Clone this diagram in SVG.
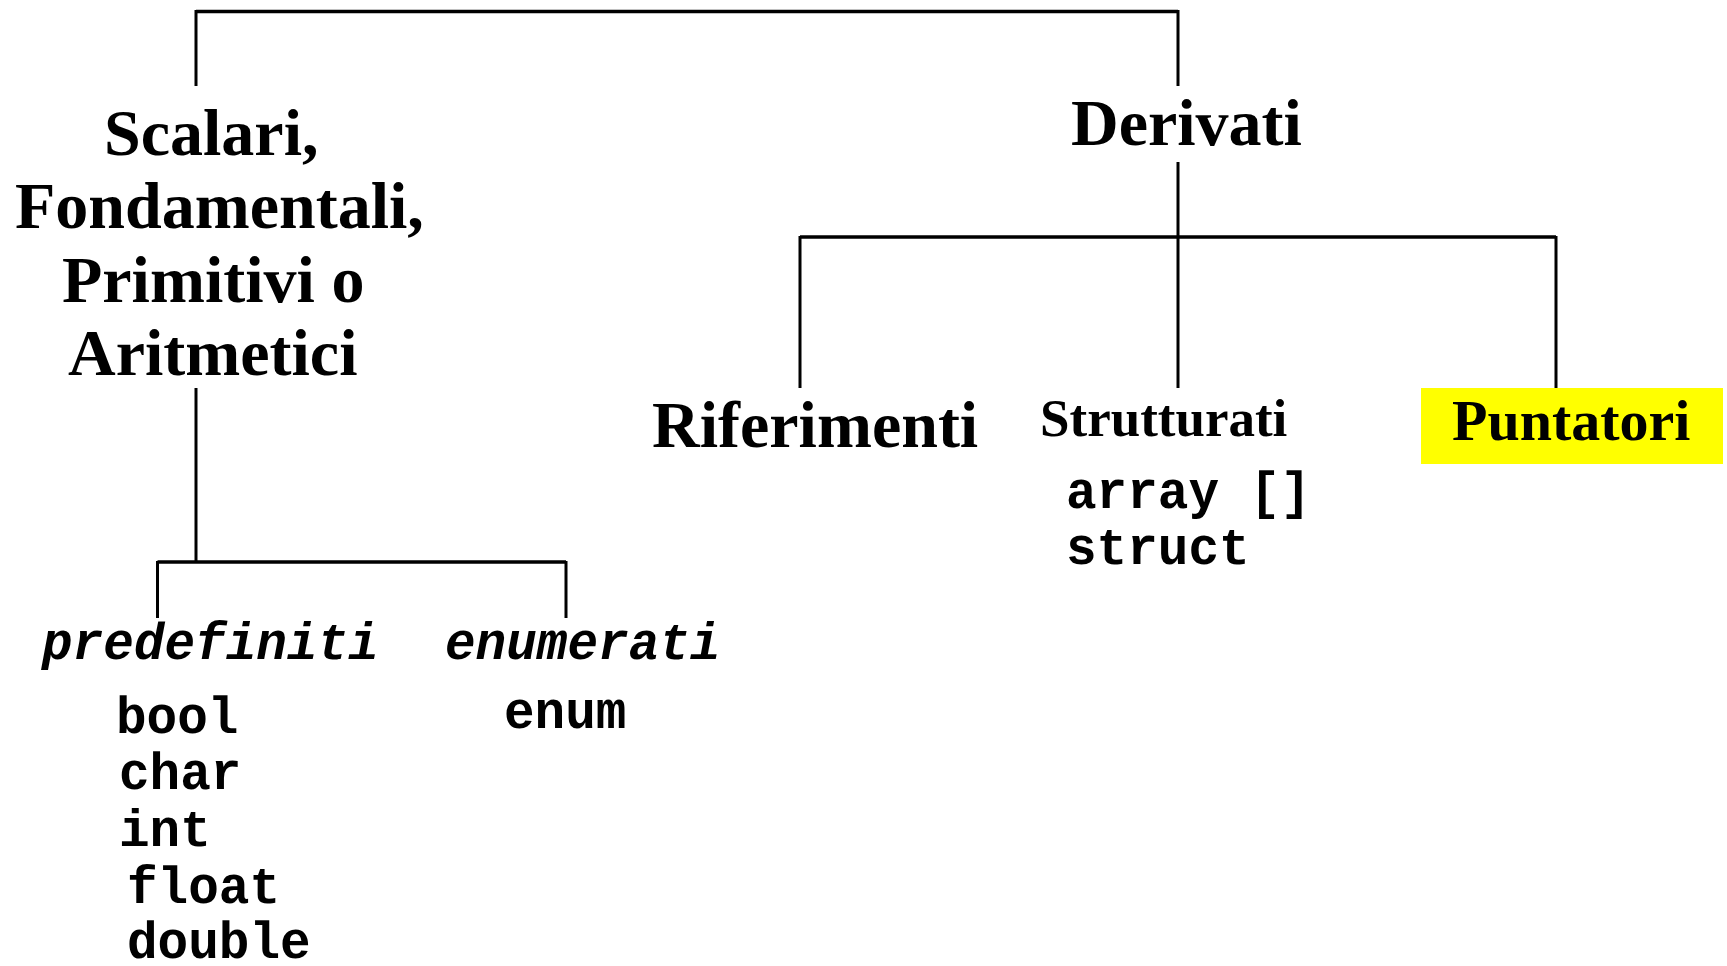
<svg xmlns="http://www.w3.org/2000/svg" width="1727" height="966" viewBox="0 0 1727 966">
<style>
.h{font-family:"Liberation Serif","Times New Roman",serif;font-weight:bold;fill:#000}
.m{font-family:"Liberation Mono","Courier New",monospace;font-weight:bold;fill:#000;font-size:51px}
.mi{font-family:"Liberation Mono","Courier New",monospace;font-weight:bold;font-style:italic;fill:#000;font-size:51px}
.hl{stroke:#000;stroke-width:3.5;fill:none}
.vl{stroke:#000;stroke-width:3;fill:none}
</style>
<rect width="1727" height="966" fill="#fff"/>
<g id="connectors">
<path class="hl" d="M196 11.5H1178"/>
<path class="vl" d="M196 10V86M1178 10V86"/>
<path class="vl" d="M1178 162V388"/>
<path class="hl" d="M800 237H1556"/>
<path class="vl" d="M800 236V388M1556 236V388"/>
<path class="vl" d="M196 388V562"/>
<path class="hl" d="M157.5 562H566"/>
<path class="vl" d="M157.5 561V618M566 561V618"/>
</g>
<g id="node-scalari">
<text class="h" font-size="66" x="104" y="155">Scalari,</text>
<text class="h" font-size="66" x="15" y="228">Fondamentali,</text>
<text class="h" font-size="66" x="62" y="302">Primitivi o</text>
<text class="h" font-size="66" x="68" y="375">Aritmetici</text>
</g>
<g id="node-derivati">
<text class="h" font-size="66" x="1071" y="145">Derivati</text>
</g>
<g id="node-riferimenti">
<text class="h" font-size="66" x="652" y="447">Riferimenti</text>
</g>
<g id="node-strutturati">
<text class="h" font-size="53" x="1040" y="436">Strutturati</text>
<text class="m" x="1066" y="508">array []</text>
<text class="m" x="1066" y="564">struct</text>
</g>
<g id="node-puntatori">
<rect x="1421" y="388" width="302" height="76" fill="#ffff00"/>
<text class="h" font-size="58" x="1452" y="440">Puntatori</text>
</g>
<g id="node-predefiniti">
<text class="mi" x="42" y="659">predefiniti</text>
<text class="m" x="116" y="733">bool</text>
<text class="m" x="119" y="789">char</text>
<text class="m" x="119" y="846">int</text>
<text class="m" x="127" y="903">float</text>
<text class="m" x="127" y="958">double</text>
</g>
<g id="node-enumerati">
<text class="mi" x="445" y="659">enumerati</text>
<text class="m" x="504" y="728">enum</text>
</g>
</svg>
